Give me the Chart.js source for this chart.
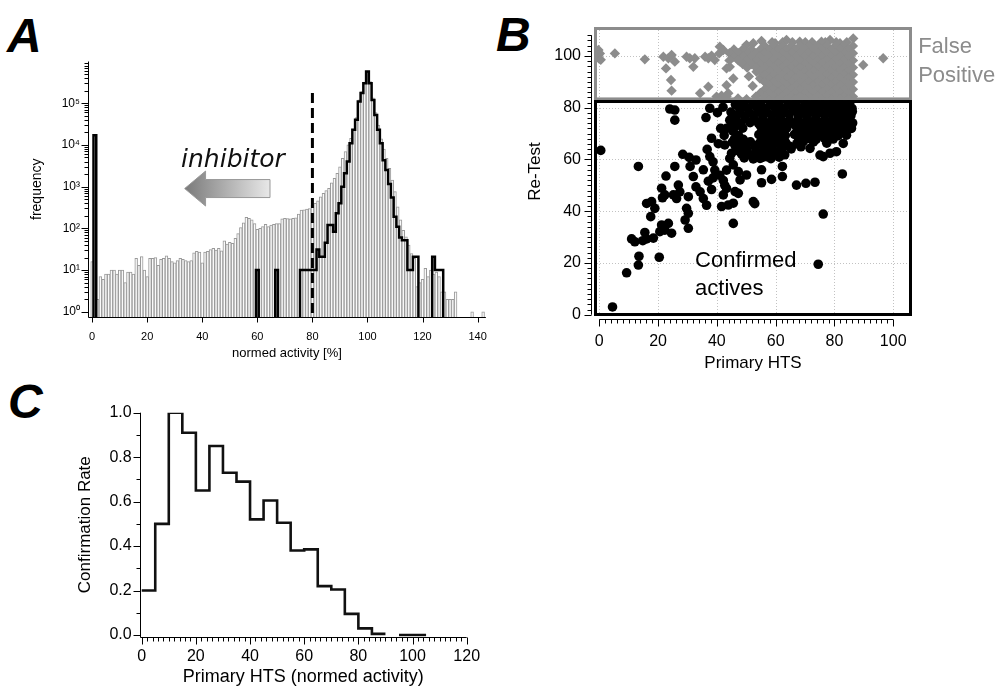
<!DOCTYPE html>
<html>
<head>
<meta charset="utf-8">
<script src="https://cdn.jsdelivr.net/npm/chart.js@4.4.1/dist/chart.umd.min.js"></script>
<style>
html, body { margin: 0; padding: 0; overflow: hidden; background: #fff; }
body { position: relative; width: 1003px; height: 688px; }
canvas { position: absolute; }
.letter { position: absolute; font: italic bold 48px 'Liberation Sans', Arial, sans-serif; line-height: 1; color: #000; }
</style>
</head>
<body>
<div class="letter" style="left:7px;top:12px">A</div>
<div class="letter" style="left:496px;top:11px">B</div>
<div class="letter" style="left:8px;top:378px">C</div>
<canvas id="chartA" width="500" height="372" style="left:0;top:0"></canvas>
<canvas id="chartB" width="503" height="375" style="left:500px;top:0"></canvas>
<canvas id="chartC" width="500" height="320" style="left:0;top:370px"></canvas>
<script>
// ---- Panel A: frequency of normed activity, 1 % bins (bin k centred on k %)
const A_BIN_START = 0;
const allCompounds = [
  16, 0, 2, 7, 6, 8, 8, 10, 10, 8,
  10, 10, 5, 9, 9, 8, 19, 13, 21, 10,
  7, 19, 19, 20, 13, 18, 19, 22, 19, 16,
  15, 17, 19, 18, 17, 16, 17, 26, 28, 27,
  15, 27, 28, 31, 33, 30, 33, 29, 50, 42,
  46, 44, 58, 75, 105, 135, 185, 175, 160, 130,
  95, 100, 110, 125, 110, 120, 125, 130, 130, 170,
  175, 172, 170, 175, 180, 220, 275, 280, 290, 300,
  360, 400, 460, 570, 690, 800, 910, 1240, 1590, 2090,
  3000, 4800, 6900, 10000, 14400, 24000, 45000, 120000, 190000, 320000,
  575000, 330000, 135000, 60000, 30000, 14000, 8000, 4800, 2750, 1440,
  760, 330, 160, 90, 63, 40, 25, 19, 4, 5,
  6, 11, 7, 10, 8, 9, 7, 3, 3, 2,
  2, 2, 3, 0, 0, 0, 0, 0, 1, 0,
  0, 0, 1
];
const controlBins = [1, 60, 67,
  76, 77, 78, 79, 80, 81, 82, 83, 84, 85, 86, 87, 88, 89, 90, 91, 92, 93, 94, 95, 96, 97,
  98, 99, 100, 101, 102, 103, 104, 105, 106, 107, 108, 109, 110, 111, 112, 113, 114, 115, 116, 117, 118,
  124, 125, 126, 127];
const controlCounts = [17000, 10, 10,
  10, 10, 10, 10, 10, 10, 31, 21, 21, 45, 120, 120, 83, 230, 400, 1000, 2100, 4000, 11000, 23000, 40000, 110000,
  175000, 300000, 575000, 300000, 120000, 52000, 23000, 11000, 4300, 2500, 1150, 550, 190, 110, 60, 52, 52, 10, 10, 21, 21,
  21, 10, 10, 10];
const A_X_TICKS = [0, 20, 40, 60, 80, 100, 120, 140];
const A_Y_TICKS = [1, 10, 100, 1000, 10000, 100000];
const A_Y_MIN = 0.75, A_Y_MAX = 1e6;
const CUTOFF = 80;

// ---- Panel B: primary HTS vs re-test
const confirmedActives = [
  [0.5, 63.5], [4.5, 3], [9.3, 16.2], [13.5, 22.6], [13.3, 19.2], [20.4, 22.2], [74.5, 19.5], [76.2, 38.9],
  [82.7, 54.4], [45.6, 35.3], [52.4, 43.7], [52.9, 42.9], [67.1, 50.1], [70.3, 50.8], [73.4, 51.2], [55.2, 51],
  [58.6, 52.3], [62.3, 53.4], [62.3, 57.3], [13.3, 57.3],
  [11, 29.3], [12.1, 28.2], [14.8, 28.6], [16.1, 29.3], [18.4, 29.6], [15.5, 31.8], [17.5, 37.9], [16.1, 43],
  [17.8, 43.7], [18.9, 41.1], [21.2, 34.7], [23.5, 35.3], [24.6, 31.5], [22.3, 32.7], [20.6, 32.1], [21.2, 48.9],
  [22.3, 46.3], [21.5, 45.2], [22.7, 53.6], [25.7, 57.3], [25.2, 46.3], [26.9, 50.1], [27.4, 47.5], [26.3, 44.9],
  [28.4, 62], [30.6, 60.8], [32.9, 59.8], [29.7, 41.1], [30.3, 39.2], [29.2, 36.6], [30.3, 33.4], [30.9, 57.3],
  [32, 53.4], [30.3, 45.6], [32.9, 49.4], [34.3, 47.5], [35.4, 44.9], [36.5, 42.3], [35.4, 56], [37.1, 51.6],
  [38.2, 48.4], [38.7, 52.9], [36.7, 63.9], [37.6, 61.1], [38.7, 59.1], [39.3, 55.9], [41, 53.9], [42.2, 51.9],
  [42.7, 50], [43.3, 55.9], [44.4, 60.4], [38.2, 68.2], [41.3, 72], [43.3, 72], [44.4, 75.2], [40.2, 78.1],
  [42.1, 80.2], [40.5, 66.1], [42.5, 69.3], [24, 79.5], [25.7, 79.1], [25.7, 75.2], [36.3, 76.2], [37.6, 79.8],
  [42.7, 65.6], [45, 62.4], [47.3, 64.3], [49.2, 65], [45.6, 57.9], [47.3, 55.3], [47.9, 52.1], [50.1, 54],
  [41.6, 41.8], [43.9, 42.4], [45.6, 43.1], [46.2, 47.6], [47.3, 46.9], [43.3, 48.8], [42.2, 46.3],
  [55.2, 56], [54.7, 60.4], [56.9, 61.1], [69.4, 66.9], [71.7, 64.3], [75.1, 61.7], [76.2, 61.1], [78.5, 62.4],
  [80.7, 63], [83, 66.2], [84.1, 69.4], [85.8, 72], [84.7, 75.2], [83, 77.7], [80.2, 74.5], [77.9, 72], [75.7, 70.7],
  // dense block of confirmed actives (upper right)
  [46.3, 81.2], [49.1, 81.8], [52.2, 81.4], [55, 81.9], [58.3, 81.3], [61.1, 81.7], [64.2, 81.2], [67, 81.8],
  [70.1, 81.3], [73.2, 81.6], [76, 81.1], [79.3, 81.7], [82.1, 81.2], [85.2, 81.5],
  [47.7, 80], [50.6, 79.7], [53.6, 80.2], [56.6, 79.8], [59.7, 80.1], [62.6, 79.6], [65.6, 80.2], [68.5, 79.8],
  [71.6, 80], [74.6, 79.7], [77.6, 80.2], [80.7, 79.9], [83.6, 80.1], [86, 79.7],
  [44.8, 78.3], [47.9, 78.9], [51, 78.2], [54.1, 78.7], [57.2, 78.1], [60.2, 78.8], [63.1, 78.4], [66.3, 78.9],
  [69.2, 78.2], [72.1, 78.6], [75.3, 78.1], [78.2, 78.8], [81.2, 78.3], [84.1, 78.9], [86.1, 78.5],
  [46.4, 77], [49.4, 76.8], [52.5, 77.2], [55.6, 76.9], [58.7, 77.1], [61.6, 76.7], [64.6, 77.2], [67.8, 76.8],
  [70.6, 77.1], [73.7, 76.9], [76.8, 77.2], [79.8, 76.8], [82.7, 77.1], [85.6, 76.9],
  [46.6, 75.3], [49.7, 75.9], [52.8, 75.2], [55.6, 75.7], [58.7, 75.4], [61.6, 75.9], [64.7, 75.1], [67.6, 75.6],
  [70.7, 75.3], [73.6, 75.8], [76.6, 75.2], [79.4, 75.7], [82.4, 75.4],
  [45.2, 74.1], [48.2, 73.8], [51.3, 74.2], [54.2, 73.9], [57.3, 74.1], [60.1, 73.7], [63.2, 74.2], [66.1, 73.9],
  [69.3, 74], [72.2, 73.8], [75.1, 74.2], [78.2, 73.9], [81.1, 74.1], [84.1, 73.8], [86.2, 74.1],
  [46.1, 72.6], [48.8, 72.1], [54.9, 72.8], [57.9, 72.3], [60.9, 72.7], [63.8, 72.2], [66.9, 72.9], [69.9, 72.4],
  [72.8, 72.7], [75.8, 72.2], [78.9, 72.6], [81.7, 72.3], [84.6, 72.8],
  [45.4, 71.1], [56.4, 70.8], [59.4, 71.2], [62.3, 70.9], [68.3, 71.1], [71.4, 70.8], [74.3, 71.2], [77.4, 70.9],
  [80.3, 71.1], [83.2, 70.8],
  [47.4, 69.2], [54.3, 69.6], [57.3, 69.1], [60.4, 69.8], [63.3, 69.3], [66.4, 69.7], [69.2, 69.2], [72.3, 69.6],
  [75.2, 69.4], [78.1, 69.8], [81.3, 69.2],
  [46, 68], [49, 67.8], [55.7, 68.1], [58.8, 67.9], [61.8, 68.2], [67.8, 67.9], [70.8, 68.1], [73.8, 67.8],
  [76.7, 68.1], [79.6, 67.9],
  [45.3, 66.7], [48.4, 66.2], [51.4, 66.8], [54.5, 66.3], [57.6, 66.9], [60.6, 66.4], [63.4, 66.6], [67.2, 66.1],
  [72.9, 66.8], [77.4, 66.3],
  [46.3, 65.1], [49.8, 64.9], [52.9, 65.2], [55.9, 64.8], [58.9, 65.1], [61.9, 64.9], [64.6, 65.2], [68.6, 64.9],
  [47.1, 63.4], [50.2, 63.9], [53.3, 63.3], [56.2, 63.8], [59.3, 63.2], [62.1, 63.7], [65.3, 64.1],
  [48.4, 62.1], [51.3, 61.8], [54.1, 62.2], [57.2, 61.9], [60.3, 62.1], [63.1, 61.8],
  [49.3, 60.6], [52.4, 60.2], [55.5, 60.8], [58.4, 60.3], [61.2, 60.9]
];
// scattered false positives
const falsePositives = [
  [-0.3, 102.3], [-0.3, 100.4], [-0.2, 99.1], [0.2, 101], [0.5, 98.5], [5.3, 101], [15.5, 98.7], [21.8, 99.7],
  [23.5, 99.1], [24.6, 100.4], [25.7, 97.8], [22.7, 95.2], [24.4, 90.7], [24.6, 86.6], [29.7, 99.7], [30.8, 99.1],
  [32.5, 99.1], [32, 95.8], [34.3, 85.6], [37.1, 88.1], [36, 99.7], [37.1, 99.1], [38.2, 100.1], [39.3, 98.4],
  [40.8, 101], [41, 103.6], [42.2, 102.3], [43.3, 95.2], [44.4, 95.8], [45.6, 91.3], [43.3, 88.7], [43.9, 85.6],
  [39.9, 84.3], [41.6, 84.6], [43.3, 84.3], [47.9, 97.8], [50.1, 99.7], [50.1, 104.3], [52.4, 104.9], [55.2, 105.8],
  [53.5, 93.9], [54.7, 91.3], [56.4, 90], [55.8, 86.2], [58.6, 84.9], [59.8, 104.9], [63.7, 106.2], [68.2, 105.5],
  [75.6, 105.5], [78.5, 106.2], [81.9, 104.9], [86.4, 106.8], [89.8, 96.5], [96.6, 99.1],
  [47.2, 83.6], [50.1, 83.3], [52.2, 88.4], [50.9, 92.1]
];
// dense block of false positives, one row per re-test level: [re-test, [primary HTS values]]
const falsePositiveRows = [
  [105.3, [58.8, 62.4, 65.7, 70.1, 72.4, 76.9, 80.6, 84.2]],
  [103.9, [56.3, 59.3, 62.3, 65.3, 68.3, 71.3, 74.3, 77.3, 80.3, 83.3, 86.3]],
  [102.5, [45.8, 48.8, 51.8, 54.8, 57.8, 60.8, 63.8, 66.8, 69.8, 72.8, 75.8, 78.8, 81.8, 84.8]],
  [101.1, [44.3, 47.3, 50.3, 53.3, 56.3, 59.3, 62.3, 65.3, 68.3, 71.3, 74.3, 77.3, 80.3, 83.3, 86.3]],
  [99.7, [45.8, 48.8, 51.8, 54.8, 57.8, 60.8, 63.8, 66.8, 69.8, 72.8, 75.8, 78.8, 81.8, 84.8]],
  [98.3, [44.3, 47.3, 50.3, 53.3, 56.3, 59.3, 62.3, 65.3, 68.3, 71.3, 74.3, 77.3, 80.3, 83.3, 86.3]],
  [96.9, [48.8, 51.8, 54.8, 57.8, 60.8, 63.8, 66.8, 69.8, 72.8, 75.8, 78.8, 81.8, 84.8]],
  [95.5, [50.3, 53.3, 56.3, 59.3, 62.3, 65.3, 68.3, 71.3, 74.3, 77.3, 80.3, 83.3, 86.3]],
  [94.1, [54.8, 57.8, 60.8, 63.8, 66.8, 69.8, 72.8, 75.8, 78.8, 81.8, 84.8]],
  [92.7, [56.3, 59.3, 62.3, 65.3, 68.3, 71.3, 74.3, 77.3, 80.3, 83.3, 86.3]],
  [91.3, [57.8, 60.8, 63.8, 66.8, 69.8, 72.8, 75.8, 78.8, 81.8, 84.8]],
  [89.9, [56.3, 59.3, 62.3, 65.3, 68.3, 71.3, 74.3, 77.3, 80.3, 83.3, 86.3]],
  [88.5, [57.8, 60.8, 63.8, 66.8, 69.8, 72.8, 75.8, 78.8, 81.8, 84.8]],
  [87.1, [56.3, 59.3, 62.3, 65.3, 68.3, 71.3, 74.3, 77.3, 80.3, 83.3, 86.3]],
  [85.7, [54.8, 57.8, 60.8, 63.8, 66.8, 69.8, 72.8, 75.8, 78.8, 81.8, 84.8]],
  [84.3, [53.3, 56.3, 59.3, 62.3, 65.3, 68.3, 71.3, 74.3, 77.3, 80.3, 83.3, 86.3]],
  [83.2, [57.8, 60.8, 63.8, 66.8, 69.8, 72.8, 75.8, 78.8, 81.8, 84.8]]
];
const B_X_TICKS = [0, 20, 40, 60, 80, 100];
const B_Y_TICKS = [0, 20, 40, 60, 80, 100];
const RETEST_CUTOFF_LOW = 82.4, RETEST_CUTOFF_HIGH = 83.4;

// ---- Panel C: confirmation rate per 5 % bin of primary HTS (null = no compounds)
const C_BIN_STARTS = [0, 5, 10, 15, 20, 25, 30, 35, 40, 45, 50, 55, 60, 65, 70, 75, 80, 85, 90, 95, 100];
const C_BIN_WIDTH = 5;
const confirmationRate = [0.20, 0.50, 1.00, 0.91, 0.65, 0.85, 0.73, 0.69, 0.52, 0.605, 0.505, 0.38, 0.385,
  0.22, 0.205, 0.095, 0.03, 0.005, null, 0.0, 0.0];
const C_X_TICKS = [0, 20, 40, 60, 80, 100, 120];
const C_Y_TICKS = [0, 0.2, 0.4, 0.6, 0.8, 1.0];

Chart.defaults.font.family = "'Liberation Sans', Arial, sans-serif";
Chart.defaults.color = '#000';

const FONT = "'Liberation Sans', Arial, sans-serif";
const GREY = '#8c8c8c';
const SUP = ['\u2070', '\u00b9', '\u00b2', '\u00b3', '\u2074', '\u2075', '\u2076'];

const fixedTicks = vals => s => { s.ticks = vals.map(v => ({ value: v })); };

function line(ctx, x1, y1, x2, y2) {
  ctx.beginPath();
  ctx.moveTo(x1, y1);
  ctx.lineTo(x2, y2);
  ctx.stroke();
}

// outline of a histogram: runs of consecutive bins, dropping to the floor at both ends
function stepOutline(bins, counts, floor) {
  const pts = [];
  for (let i = 0; i < bins.length; i++) {
    const b = bins[i];
    if (i === 0 || bins[i - 1] !== b - 1) {
      if (i) pts.push({ x: b - 0.5, y: null });
      pts.push({ x: b - 0.5, y: floor });
    }
    pts.push({ x: b - 0.5, y: counts[i] });
    if (i === bins.length - 1 || bins[i + 1] !== b + 1) pts.push({ x: b + 0.5, y: floor });
  }
  return pts;
}

// Panel A extras: axes, ticks, cutoff line, inhibitor arrow
const panelA = {
  id: 'panelA',
  afterDraw(chart) {
    const { ctx, chartArea: a, scales: { x, y } } = chart;
    ctx.save();
    ctx.strokeStyle = '#000';
    ctx.lineWidth = 1;
    const ax = Math.round(a.left) + 0.5, ay = Math.round(a.bottom) + 0.5;
    line(ctx, ax, a.top, ax, ay);
    line(ctx, ax, ay, a.right, ay);
    for (let e = 0; e < 6; e++) {
      for (let m = 1; m <= 9; m++) {
        const v = m * Math.pow(10, e);
        if (v < A_Y_MIN || v > A_Y_MAX) continue;
        const py = Math.round(y.getPixelForValue(v)) + 0.5;
        line(ctx, ax, py, ax - (m === 1 ? 7 : 4), py);
      }
    }
    A_X_TICKS.forEach(v => {
      const px = Math.round(x.getPixelForValue(v)) + 0.5;
      line(ctx, px, ay, px, ay + 5);
    });
    // cutoff at 80 %
    ctx.lineWidth = 3;
    ctx.setLineDash([10, 5]);
    const cx = x.getPixelForValue(CUTOFF);
    line(ctx, cx, y.getPixelForValue(175000), cx, a.bottom);
    ctx.setLineDash([]);
    // arrow
    const yc = y.getPixelForValue(900);
    const xt = x.getPixelForValue(33.6), xb = x.getPixelForValue(41.2), xe = x.getPixelForValue(64.6);
    const g = ctx.createLinearGradient(xt, 0, xe, 0);
    g.addColorStop(0, '#7a7a7a');
    g.addColorStop(1, '#e8e8e8');
    ctx.beginPath();
    ctx.moveTo(xt, yc);
    ctx.lineTo(xb, yc - 17.5);
    ctx.lineTo(xb, yc - 9);
    ctx.lineTo(xe, yc - 9);
    ctx.lineTo(xe, yc + 9);
    ctx.lineTo(xb, yc + 9);
    ctx.lineTo(xb, yc + 17.5);
    ctx.closePath();
    ctx.fillStyle = g;
    ctx.fill();
    ctx.lineWidth = 1;
    ctx.strokeStyle = '#999';
    ctx.stroke();
    ctx.fillStyle = '#111';
    ctx.font = "italic 25px 'DejaVu Sans', sans-serif";
    ctx.textAlign = 'left';
    ctx.textBaseline = 'alphabetic';
    ctx.fillText('inhibitor', x.getPixelForValue(32.3), y.getPixelForValue(2950));
    ctx.restore();
  }
};

new Chart(document.getElementById('chartA'), {
  type: 'bar',
  data: {
    datasets: [
      {
        type: 'line',
        data: stepOutline(controlBins, controlCounts, A_Y_MIN),
        borderColor: '#000',
        borderWidth: 2.5,
        pointRadius: 0,
        stepped: 'before',
        spanGaps: false,
        borderJoinStyle: 'miter',
        order: 0
      },
      {
        type: 'bar',
        data: allCompounds.map((c, i) => ({ x: A_BIN_START + i, y: c || null })),
        backgroundColor: '#fafafa',
        borderColor: '#999999',
        borderWidth: 1,
        barPercentage: 1,
        categoryPercentage: 1,
        order: 1
      }
    ]
  },
  options: {
    responsive: false,
    animation: false,
    events: [],
    layout: { padding: { left: 0, top: 61.5, right: 10, bottom: 10 } },
    plugins: { legend: { display: false }, tooltip: { enabled: false } },
    scales: {
      x: {
        type: 'linear', offset: false, min: -1.5, max: 143,
        afterBuildTicks: fixedTicks(A_X_TICKS),
        afterFit: s => { s.height = 45; },
        grid: { display: false, drawTicks: false },
        border: { display: false },
        ticks: { padding: 13, font: { size: 11 }, autoSkip: false, maxRotation: 0 },
        title: { display: true, text: 'normed activity [%]', font: { size: 13 }, padding: { top: 0, bottom: 1 } }
      },
      y: {
        type: 'logarithmic', min: A_Y_MIN, max: A_Y_MAX,
        afterBuildTicks: fixedTicks(A_Y_TICKS),
        afterFit: s => { s.width = 88; },
        grid: { display: false, drawTicks: false },
        border: { display: false },
        ticks: {
          padding: 8, font: { size: 12 }, autoSkip: false,
          callback: v => '10' + SUP[Math.round(Math.log10(v))]
        },
        title: { display: true, text: 'frequency', font: { size: 14 }, padding: { top: 28.6, bottom: 0 } }
      }
    }
  },
  plugins: [panelA]
});

// Panel B extras: dotted grid, boxes, offset axes, labels
const panelB = {
  id: 'panelB',
  beforeDatasetsDraw(chart) {
    const { ctx, chartArea: a, scales: { x, y } } = chart;
    ctx.save();
    ctx.strokeStyle = '#c2c2c2';
    ctx.lineWidth = 1;
    ctx.setLineDash([1, 2]);
    B_X_TICKS.forEach(v => {
      const px = Math.round(x.getPixelForValue(v)) + 0.5;
      line(ctx, px, a.top, px, a.bottom);
    });
    B_Y_TICKS.forEach(v => {
      const py = Math.round(y.getPixelForValue(v)) + 0.5;
      line(ctx, a.left, py, a.right, py);
    });
    ctx.restore();
  },
  afterDatasetsDraw(chart) {
    const { ctx, chartArea: a, scales: { y } } = chart;
    ctx.save();
    ctx.lineWidth = 3;
    ctx.strokeStyle = GREY;
    const gb = y.getPixelForValue(RETEST_CUTOFF_HIGH);
    ctx.strokeRect(a.left + 1.5, a.top + 1.5, a.right - a.left - 3, gb - a.top - 1.5);
    ctx.strokeStyle = '#000';
    const bt = y.getPixelForValue(RETEST_CUTOFF_LOW);
    ctx.strokeRect(a.left + 1.5, bt, a.right - a.left - 3, a.bottom - 1.5 - bt);
    ctx.restore();
  },
  afterDraw(chart) {
    const { ctx, chartArea: a, scales: { x, y } } = chart;
    ctx.save();
    ctx.strokeStyle = '#000';
    ctx.lineWidth = 1;
    const ax = Math.round(a.left) - 2.5, ay = Math.round(a.bottom) + 3.5;
    line(ctx, ax, y.getPixelForValue(0), ax, y.getPixelForValue(108));
    for (let v = 0; v <= 108; v += 2) {
      const py = Math.round(y.getPixelForValue(v)) + 0.5;
      line(ctx, ax, py, ax - (v % 20 === 0 ? 7 : 4), py);
    }
    line(ctx, x.getPixelForValue(0), ay, x.getPixelForValue(100), ay);
    for (let v = 0; v <= 100; v += 2) {
      const px = Math.round(x.getPixelForValue(v)) + 0.5;
      line(ctx, px, ay, px, ay + (v % 20 === 0 ? 7 : 4));
    }
    ctx.textAlign = 'left';
    ctx.textBaseline = 'alphabetic';
    ctx.font = '22px ' + FONT;
    ctx.fillStyle = GREY;
    ctx.fillText('False', x.getPixelForValue(108.5), y.getPixelForValue(101));
    ctx.fillText('Positive', x.getPixelForValue(108.5), y.getPixelForValue(90.1));
    ctx.fillStyle = '#000';
    ctx.fillText('Confirmed', x.getPixelForValue(32.6), y.getPixelForValue(18.6));
    ctx.fillText('actives', x.getPixelForValue(32.6), y.getPixelForValue(7.6));
    ctx.restore();
  }
};

const falsePositivePoints = falsePositives.map(([px, py]) => ({ x: px, y: py }));
falsePositiveRows.forEach(([py, xs]) => xs.forEach(px => falsePositivePoints.push({ x: px, y: py })));

new Chart(document.getElementById('chartB'), {
  type: 'scatter',
  data: {
    datasets: [
      {
        label: 'Confirmed actives',
        data: confirmedActives.map(([px, py]) => ({ x: px, y: py })),
        pointStyle: 'circle',
        pointRadius: 4.8,
        backgroundColor: '#000',
        borderWidth: 0,
        order: 0
      },
      {
        label: 'False Positive',
        data: falsePositivePoints,
        pointStyle: 'rectRot',
        pointRadius: 5.2,
        backgroundColor: GREY,
        borderWidth: 0,
        order: 1
      }
    ]
  },
  options: {
    responsive: false,
    animation: false,
    events: [],
    layout: { padding: { left: 0, top: 27, right: 91, bottom: 1 } },
    plugins: { legend: { display: false }, tooltip: { enabled: false } },
    scales: {
      x: {
        type: 'linear', min: -1.8, max: 106.4,
        afterBuildTicks: fixedTicks(B_X_TICKS),
        afterFit: s => { s.height = 58; },
        grid: { display: false, drawTicks: false },
        border: { display: false },
        ticks: { padding: 16.4, font: { size: 16 }, autoSkip: false, maxRotation: 0 },
        title: { display: true, text: 'Primary HTS', font: { size: 17 }, padding: { top: 0, bottom: 0.8 } }
      },
      y: {
        type: 'linear', min: -0.5, max: 111.2,
        afterBuildTicks: fixedTicks(B_Y_TICKS),
        afterFit: s => { s.width = 94; },
        grid: { display: false, drawTicks: false },
        border: { display: false },
        ticks: { padding: 13, font: { size: 16 }, autoSkip: false },
        title: { display: true, text: 'Re-Test', font: { size: 17 }, padding: { top: 24.8, bottom: 0 } }
      }
    }
  },
  plugins: [panelB]
});

// Panel C: confirmation rate step plot
function rateSteps() {
  const pts = [];
  C_BIN_STARTS.forEach((s, i) => {
    const r = confirmationRate[i];
    if (r === null) { pts.push({ x: s, y: null }); return; }
    pts.push({ x: s, y: r });
    const next = confirmationRate[i + 1];
    if (i === C_BIN_STARTS.length - 1 || next === null) pts.push({ x: s + C_BIN_WIDTH, y: r });
  });
  return pts;
}

const panelC = {
  id: 'panelC',
  afterDraw(chart) {
    const { ctx, chartArea: a, scales: { x, y } } = chart;
    ctx.save();
    ctx.strokeStyle = '#000';
    ctx.lineWidth = 1;
    const ax = Math.round(a.left) + 0.5, ay = Math.round(a.bottom) + 0.5;
    line(ctx, ax, a.top, ax, ay);
    line(ctx, ax, ay, a.right, ay);
    for (let i = 0; i <= 10; i++) {
      const py = Math.round(y.getPixelForValue(i / 10)) + 0.5;
      line(ctx, ax, py, ax - (i % 2 === 0 ? 7 : 4), py);
    }
    for (let v = 0; v <= 120; v += 2) {
      const px = Math.round(x.getPixelForValue(v)) + 0.5;
      line(ctx, px, ay, px, ay + (v % 20 === 0 ? 7 : 4));
    }
    ctx.restore();
  }
};

new Chart(document.getElementById('chartC'), {
  type: 'line',
  data: {
    datasets: [{
      data: rateSteps(),
      borderColor: '#111',
      borderWidth: 2.6,
      pointRadius: 0,
      stepped: 'before',
      spanGaps: false,
      borderJoinStyle: 'miter',
      fill: false
    }]
  },
  options: {
    responsive: false,
    animation: false,
    events: [],
    layout: { padding: { left: 0, top: 42.7, right: 33.3, bottom: 1.7 } },
    plugins: { legend: { display: false }, tooltip: { enabled: false } },
    scales: {
      x: {
        type: 'linear', min: -0.74, max: 120,
        afterBuildTicks: fixedTicks(C_X_TICKS),
        afterFit: s => { s.height = 51.6; },
        grid: { display: false, drawTicks: false },
        border: { display: false },
        ticks: { padding: 10.4, font: { size: 16 }, autoSkip: false, maxRotation: 0 },
        title: { display: true, text: 'Primary HTS (normed activity)', font: { size: 18 }, padding: { top: 0, bottom: 0 } }
      },
      y: {
        type: 'linear', min: -0.0076, max: 1.0,
        afterBuildTicks: fixedTicks(C_Y_TICKS),
        afterFit: s => { s.width = 139.7; },
        grid: { display: false, drawTicks: false },
        border: { display: false },
        ticks: { padding: 8, font: { size: 16 }, autoSkip: false, callback: v => v.toFixed(1) },
        title: { display: true, text: 'Confirmation Rate', font: { size: 17 }, padding: { top: 74.8, bottom: 0 } }
      }
    }
  },
  plugins: [panelC]
});
</script>
</body>
</html>
